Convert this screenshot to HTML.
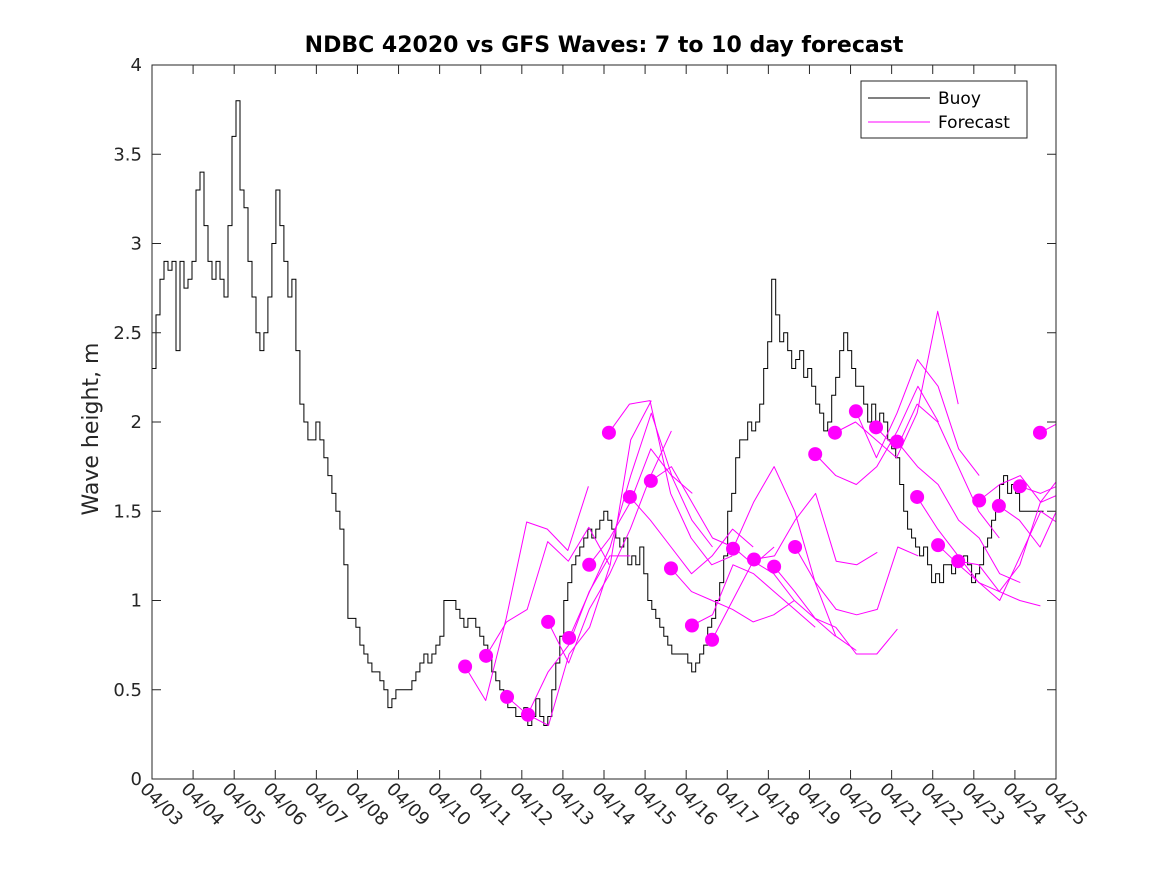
<!DOCTYPE html>
<html><head><meta charset="utf-8">
<style>
html,body{margin:0;padding:0;background:#fff;}
svg{display:block;font-family:"DejaVu Sans","Liberation Sans",sans-serif;}
</style></head>
<body>
<svg id="chart" width="1167" height="875" viewBox="0 0 1167 875" xmlns="http://www.w3.org/2000/svg">
<rect width="1167" height="875" fill="#fff"/>
<text x="604" y="52" text-anchor="middle" font-size="22" font-weight="bold" fill="#000">NDBC 42020 vs GFS Waves: 7 to 10 day forecast</text>
<text transform="translate(98,429) rotate(-90)" text-anchor="middle" font-size="22" fill="#262626">Wave height, m</text>
<g id="plot"></g>
<g id="axes"></g>
<g>
<rect x="861" y="81" width="166" height="57" fill="#fff" stroke="#262626" stroke-width="1"/>
<line x1="868" y1="98" x2="930" y2="98" stroke="#000" stroke-width="1"/>
<text x="938" y="104" font-size="17" fill="#000">Buoy</text>
<line x1="868" y1="122" x2="930" y2="122" stroke="#ff00ff" stroke-width="1"/>
<text x="938" y="128" font-size="17" fill="#000">Forecast</text>
</g>
</svg>
<script>
const xTickLabels = ["04/03","04/04","04/05","04/06","04/07","04/08","04/09","04/10","04/11","04/12","04/13","04/14","04/15","04/16","04/17","04/18","04/19","04/20","04/21","04/22","04/23","04/24","04/25"];
const yTicks = [0,0.5,1,1.5,2,2.5,3,3.5,4];
const yTickLabels = ["0","0.5","1","1.5","2","2.5","3","3.5","4"];
const buoyStart = 0;
const buoyStep = 0.0973;
const buoyValues = [2.3,2.6,2.8,2.9,2.85,2.9,2.4,2.9,2.75,2.8,2.9,3.3,3.4,3.1,2.9,2.8,2.9,2.8,2.7,3.1,3.6,3.8,3.3,3.2,2.9,2.7,2.5,2.4,2.5,2.7,3.0,3.3,3.1,2.9,2.7,2.8,2.4,2.1,2.0,1.9,1.9,2.0,1.9,1.8,1.7,1.6,1.5,1.4,1.2,0.9,0.9,0.85,0.75,0.7,0.65,0.6,0.6,0.55,0.5,0.4,0.45,0.5,0.5,0.5,0.5,0.55,0.6,0.65,0.7,0.65,0.7,0.75,0.8,1.0,1.0,1.0,0.95,0.9,0.85,0.9,0.9,0.85,0.8,0.75,0.7,0.6,0.55,0.5,0.45,0.4,0.4,0.35,0.35,0.4,0.3,0.35,0.45,0.35,0.3,0.35,0.5,0.65,0.8,1.0,1.1,1.2,1.25,1.3,1.35,1.4,1.35,1.4,1.45,1.5,1.45,1.4,1.35,1.3,1.35,1.2,1.25,1.2,1.3,1.15,1.0,0.95,0.9,0.85,0.8,0.75,0.7,0.7,0.7,0.7,0.65,0.6,0.65,0.7,0.75,0.85,0.9,1.0,1.1,1.25,1.5,1.6,1.8,1.9,1.9,2.0,1.95,2.0,2.1,2.3,2.45,2.8,2.6,2.45,2.5,2.4,2.3,2.35,2.4,2.25,2.3,2.2,2.1,2.05,1.95,2.0,2.15,2.25,2.4,2.5,2.4,2.3,2.2,2.2,2.1,2.0,2.1,1.95,2.05,2.0,1.9,1.85,1.8,1.65,1.5,1.4,1.35,1.3,1.25,1.3,1.2,1.1,1.15,1.1,1.2,1.2,1.15,1.2,1.2,1.25,1.2,1.1,1.15,1.2,1.3,1.35,1.45,1.55,1.65,1.7,1.6,1.65,1.6,1.5,1.5,1.5,1.5,1.5,1.5,1.5];
const dotDays = [7.62,8.13,8.64,9.15,9.64,10.15,10.64,11.12,11.63,12.14,12.63,13.14,13.63,14.14,14.65,15.14,15.65,16.14,16.62,17.13,17.62,18.13,18.62,19.13,19.62,20.13,20.61,21.12,21.61];
const dotValues = [0.63,0.69,0.46,0.36,0.88,0.79,1.20,1.94,1.58,1.67,1.18,0.86,0.78,1.29,1.23,1.19,1.30,1.82,1.94,2.06,1.97,1.89,1.58,1.31,1.22,1.56,1.53,1.64,1.94];
const forecastStep = 0.5;
const forecast0 = [0.63,0.44,0.9,1.44,1.40,1.28,1.64];
const forecast1 = [0.69,0.88,0.95,1.33,1.22,1.41,1.20];
const forecast2 = [0.46,0.36,0.60,0.75,1.05,1.25,1.25];
const forecast3 = [0.36,0.30,0.70,0.85,1.20,1.90,2.12];
const forecast4 = [0.88,0.65,0.95,1.15,1.40,1.70,1.95];
const forecast5 = [0.79,1.05,1.30,1.70,2.05,1.70,1.60];
const forecast6 = [1.20,1.35,1.55,1.85,1.70,1.45,1.30];
const forecast7 = [1.94,2.10,2.12,1.60,1.35,1.20,1.25];
const forecast8 = [1.58,1.45,1.30,1.15,1.25,1.40,1.30];
const forecast9 = [1.67,1.75,1.55,1.35,1.30,1.20,1.30];
const forecast10 = [1.18,1.05,1.00,0.95,0.88,0.92,1.00];
const forecast11 = [0.86,0.92,1.20,1.15,1.05,0.95,0.85];
const forecast12 = [0.78,1.00,1.22,1.15,1.00,0.90,0.80];
const forecast13 = [1.29,1.55,1.75,1.50,1.10,0.80,0.72];
const forecast14 = [1.23,1.25,1.45,1.60,1.22,1.20,1.27];
const forecast15 = [1.19,1.05,0.90,0.85,0.70,0.70,0.84];
const forecast16 = [1.30,1.10,0.95,0.92,0.95,1.30,1.25];
const forecast17 = [1.82,1.70,1.65,1.75,1.95,2.20,2.00];
const forecast18 = [1.94,2.00,1.90,1.80,2.05,2.62,2.10];
const forecast19 = [2.06,1.80,2.05,2.35,2.20,1.85,1.70];
const forecast20 = [1.97,1.85,2.10,2.00,1.75,1.50,1.35];
const forecast21 = [1.89,1.75,1.65,1.45,1.35,1.15,1.10];
const forecast22 = [1.58,1.40,1.25,1.10,1.05,1.00,0.97];
const forecast23 = [1.31,1.20,1.10,1.00,1.25,1.50,1.42];
const forecast24 = [1.22,1.20,1.05,1.20,1.55,1.70,1.55];
const forecast25 = [1.56,1.65,1.70,1.55,1.60,1.42,1.38];
const forecast26 = [1.53,1.45,1.30,1.55,1.65,1.80,1.65];
const forecast27 = [1.64,1.60,1.65,1.55,1.60,1.50,1.45];
const forecast28 = [1.94,2.00,2.08,2.00,1.90,1.80,1.75];
const forecasts = [forecast0,forecast1,forecast2,forecast3,forecast4,forecast5,forecast6,forecast7,forecast8,forecast9,forecast10,forecast11,forecast12,forecast13,forecast14,forecast15,forecast16,forecast17,forecast18,forecast19,forecast20,forecast21,forecast22,forecast23,forecast24,forecast25,forecast26,forecast27,forecast28];

const NS = "http://www.w3.org/2000/svg";
const L = 152, R = 1056, T = 65, B = 779, DAYS = 22, YMAX = 4;
function xs(d){ return L + d/DAYS*(R-L); }
function ys(v){ return B - v/YMAX*(B-T); }
function mk(tag, attrs, parent){ const e = document.createElementNS(NS, tag); for (const k in attrs) e.setAttribute(k, attrs[k]); parent.appendChild(e); return e; }

const plot = document.getElementById('plot');
const defs = mk('defs', {}, plot);
const cp = mk('clipPath', {id:'clip'}, defs);
mk('rect', {x:L, y:T, width:R-L, height:B-T}, cp);
const g = mk('g', {'clip-path':'url(#clip)'}, plot);

let bp = '';
buoyValues.forEach((v,i)=>{
  const x = xs(buoyStart + i*buoyStep), y = ys(v);
  if (i===0) bp += 'M'+x.toFixed(1)+','+y.toFixed(1);
  else bp += 'H'+x.toFixed(1)+'V'+y.toFixed(1);
});
const buoy = mk('path', {d:bp, fill:'none', stroke:'#000', 'stroke-width':1}, g);



forecasts.forEach((arr, k)=>{
  const pts = arr.map((v,j)=> xs(dotDays[k] + j*forecastStep).toFixed(1)+','+ys(v).toFixed(1)).join(' ');
  const pl = mk('polyline', {points:pts, fill:'none', stroke:'#ff00ff', 'stroke-width':1, 'stroke-linejoin':'round'}, g);
  
  
});
dotValues.forEach((v,k)=>{
  const c = mk('circle', {cx:xs(dotDays[k]), cy:ys(v), r:7, fill:'#ff00ff'}, g);
  
  
});

const axes = document.getElementById('axes');
const frame = mk('rect', {x:L, y:T, width:R-L, height:B-T, fill:'none', stroke:'#262626', 'stroke-width':1}, axes);


yTicks.forEach((v,i)=>{
  const y = ys(v);
  mk('line', {x1:L, y1:y, x2:L+9, y2:y, stroke:'#262626'}, axes);
  mk('line', {x1:R, y1:y, x2:R-9, y2:y, stroke:'#262626'}, axes);
  const t = mk('text', {x:L-10, y:y+6, 'text-anchor':'end', 'font-size':18, fill:'#262626'}, axes);
  t.textContent = yTickLabels[i];
  
  
});
xTickLabels.forEach((lab,i)=>{
  const x = xs(i);
  mk('line', {x1:x, y1:B, x2:x, y2:B-9, stroke:'#262626'}, axes);
  mk('line', {x1:x, y1:T, x2:x, y2:T+9, stroke:'#262626'}, axes);
  const t = mk('text', {x:0, y:0, 'font-size':18, fill:'#262626', transform:'translate('+(x-13)+','+(B+11)+') rotate(45)'}, axes);
  t.textContent = lab;
  
  
});
</script>
</body></html>
